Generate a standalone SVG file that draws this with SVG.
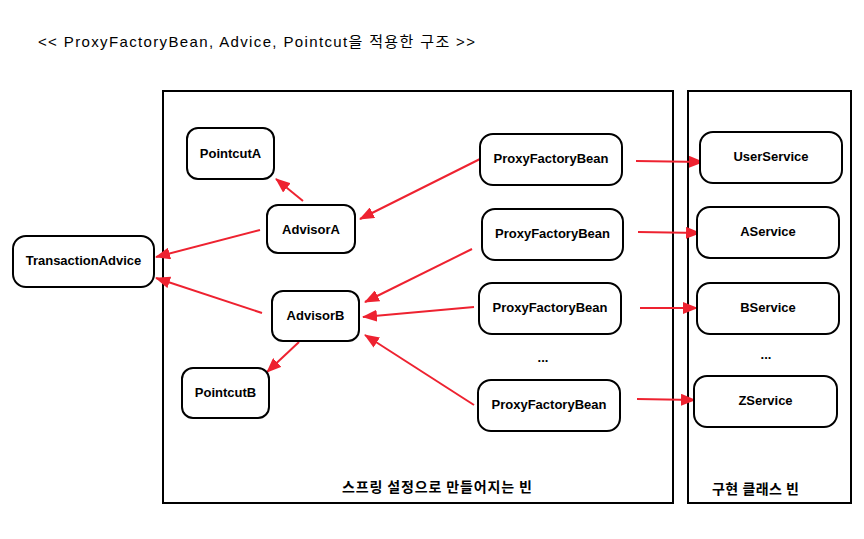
<svg xmlns="http://www.w3.org/2000/svg" width="864" height="539" viewBox="0 0 864 539">
<style>
.box{fill:#fff;stroke:#000;stroke-width:2}
.node rect{fill:#fff;stroke:#000;stroke-width:2}
.lbl{font-family:"Liberation Sans","Noto Sans CJK KR",sans-serif;font-size:13px;font-weight:bold;text-anchor:middle;fill:#000}
.kr{font-family:"Noto Sans CJK KR","Liberation Sans",sans-serif;font-size:14px;font-weight:bold;fill:#000}
.title{font-family:"Liberation Sans","Noto Sans CJK KR",sans-serif;font-size:15px;fill:#000}
.edge{stroke:#ee2230;stroke-width:2;fill:none;marker-end:url(#ah)}
</style>
<defs>
<marker id="ah" viewBox="0 0 15 12" refX="14" refY="6" markerWidth="15" markerHeight="12" markerUnits="userSpaceOnUse" orient="auto">
<path d="M0,0 L15,6 L0,12 Z" fill="#ee2230"/>
</marker>
</defs>
<rect width="864" height="539" fill="#fff"/>
<text class="title" x="38" y="47" textLength="437" lengthAdjust="spacing">&lt;&lt; ProxyFactoryBean, Advice, Pointcut을 적용한 구조 &gt;&gt;</text>
<g id="container-spring">
<rect class="box" x="163" y="91" width="510" height="412"/>
<text class="kr" x="342" y="492" textLength="190" lengthAdjust="spacing">스프링 설정으로 만들어지는 빈</text>
</g>
<g id="container-impl">
<rect class="box" x="688" y="91" width="163" height="412"/>
<text class="kr" x="712" y="494" textLength="87" lengthAdjust="spacing">구현 클래스 빈</text>
</g>
<g id="connectors">
<line class="edge" x1="303" y1="201" x2="276" y2="179"/>
<line class="edge" x1="260" y1="230" x2="156" y2="257"/>
<line class="edge" x1="262" y1="313" x2="156" y2="278"/>
<line class="edge" x1="299" y1="342" x2="267" y2="372"/>
<line class="edge" x1="480" y1="159" x2="360" y2="219"/>
<line class="edge" x1="472" y1="249" x2="365" y2="302"/>
<line class="edge" x1="474" y1="307" x2="363" y2="317"/>
<line class="edge" x1="474" y1="405" x2="365" y2="335"/>
<line class="edge" x1="636" y1="161" x2="703" y2="162"/>
<line class="edge" x1="638" y1="232" x2="700" y2="233"/>
<line class="edge" x1="640" y1="308" x2="697" y2="308"/>
<line class="edge" x1="637" y1="399" x2="695" y2="400"/>
</g>
<g id="PointcutA" class="node"><rect x="187" y="128" width="87" height="51" rx="11"/><text class="lbl" x="230.5" y="158">PointcutA</text></g>
<g id="AdvisorA" class="node"><rect x="267" y="205" width="88" height="48" rx="11"/><text class="lbl" x="311" y="234">AdvisorA</text></g>
<g id="TransactionAdvice" class="node"><rect x="13" y="236" width="141" height="51" rx="13"/><text class="lbl" x="83.5" y="265">TransactionAdvice</text></g>
<g id="AdvisorB" class="node"><rect x="272" y="291" width="87" height="50" rx="11"/><text class="lbl" x="315.5" y="320">AdvisorB</text></g>
<g id="PointcutB" class="node"><rect x="182" y="368" width="87" height="50" rx="11"/><text class="lbl" x="225.5" y="397">PointcutB</text></g>
<g id="PFB1" class="node"><rect x="480" y="134" width="142" height="51" rx="13"/><text class="lbl" x="551" y="163">ProxyFactoryBean</text></g>
<g id="PFB2" class="node"><rect x="482" y="209" width="141" height="51" rx="13"/><text class="lbl" x="552.5" y="238">ProxyFactoryBean</text></g>
<g id="PFB3" class="node"><rect x="479" y="283" width="142" height="51" rx="13"/><text class="lbl" x="550" y="312">ProxyFactoryBean</text></g>
<g id="PFB4" class="node"><rect x="478" y="380" width="142" height="51" rx="13"/><text class="lbl" x="549" y="409">ProxyFactoryBean</text></g>
<text class="lbl" x="543" y="362">...</text>
<g id="UserService" class="node"><rect x="700" y="132" width="142" height="51" rx="13"/><text class="lbl" x="771" y="161">UserService</text></g>
<g id="AService" class="node"><rect x="697" y="207" width="142" height="51" rx="13"/><text class="lbl" x="768" y="236">AService</text></g>
<g id="BService" class="node"><rect x="697" y="283" width="142" height="51" rx="13"/><text class="lbl" x="768" y="312">BService</text></g>
<text class="lbl" x="766" y="359">...</text>
<g id="ZService" class="node"><rect x="694" y="376" width="143" height="51" rx="13"/><text class="lbl" x="765.5" y="405">ZService</text></g>
</svg>
